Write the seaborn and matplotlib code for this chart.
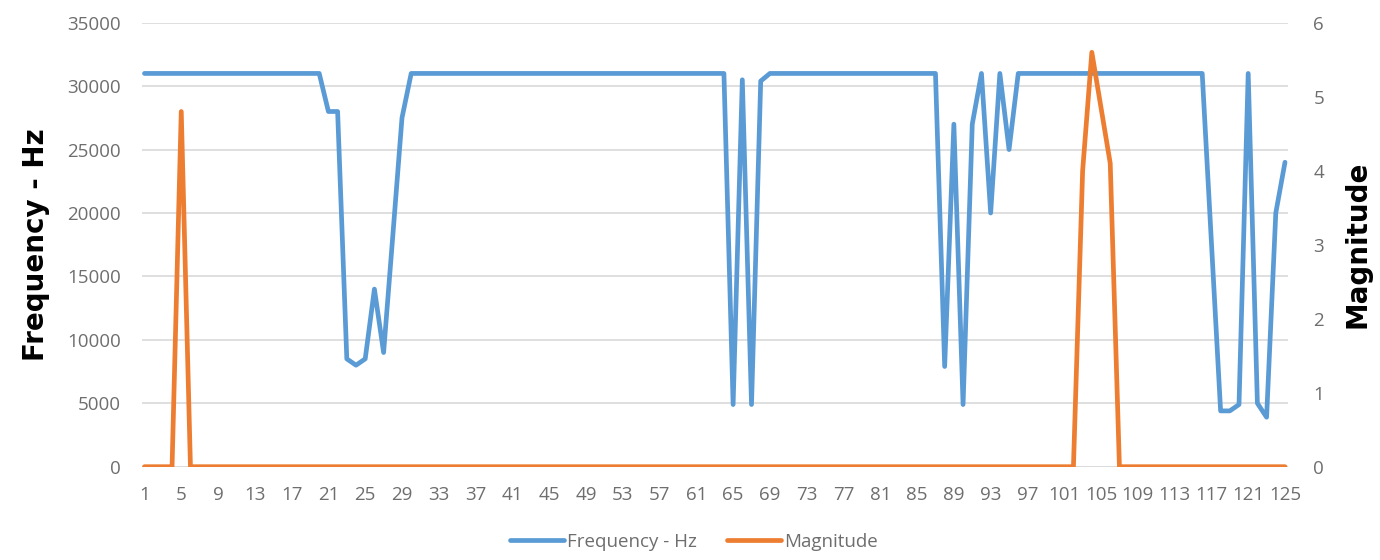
import matplotlib
matplotlib.use("Agg")
import matplotlib.pyplot as plt
from matplotlib.lines import Line2D
import seaborn as sns
import pandas as pd

# Sample number along the horizontal axis
sample = list(range(1, 126))

# Dominant frequency of each sample (Hz)
frequency_hz = [
    31000, 31000, 31000, 31000, 31000, 31000, 31000, 31000, 31000, 31000,
    31000, 31000, 31000, 31000, 31000, 31000, 31000, 31000, 31000, 31000,
    28000, 28000, 8500, 8000, 8500, 14000, 9000, 18200, 27500, 31000,
    31000, 31000, 31000, 31000, 31000, 31000, 31000, 31000, 31000, 31000,
    31000, 31000, 31000, 31000, 31000, 31000, 31000, 31000, 31000, 31000,
    31000, 31000, 31000, 31000, 31000, 31000, 31000, 31000, 31000, 31000,
    31000, 31000, 31000, 31000, 4900, 30500, 4900, 30400, 31000, 31000,
    31000, 31000, 31000, 31000, 31000, 31000, 31000, 31000, 31000, 31000,
    31000, 31000, 31000, 31000, 31000, 31000, 31000, 7900, 27000, 4900,
    27000, 31000, 20000, 31000, 25000, 31000, 31000, 31000, 31000, 31000,
    31000, 31000, 31000, 31000, 31000, 31000, 31000, 31000, 31000, 31000,
    31000, 31000, 31000, 31000, 31000, 31000, 17700, 4400, 4400, 4900,
    31000, 5000, 3900, 20000, 24000,
]

# Magnitude of each sample
magnitude = [
    0, 0, 0, 0, 4.8, 0, 0, 0, 0, 0,
    0, 0, 0, 0, 0, 0, 0, 0, 0, 0,
    0, 0, 0, 0, 0, 0, 0, 0, 0, 0,
    0, 0, 0, 0, 0, 0, 0, 0, 0, 0,
    0, 0, 0, 0, 0, 0, 0, 0, 0, 0,
    0, 0, 0, 0, 0, 0, 0, 0, 0, 0,
    0, 0, 0, 0, 0, 0, 0, 0, 0, 0,
    0, 0, 0, 0, 0, 0, 0, 0, 0, 0,
    0, 0, 0, 0, 0, 0, 0, 0, 0, 0,
    0, 0, 0, 0, 0, 0, 0, 0, 0, 0,
    0, 0, 4.0, 5.6, 4.85, 4.1, 0, 0, 0, 0,
    0, 0, 0, 0, 0, 0, 0, 0, 0, 0,
    0, 0, 0, 0, 0,
]

x_ticks = list(range(1, 126, 4))
freq_ticks = [0, 5000, 10000, 15000, 20000, 25000, 30000, 35000]
mag_ticks = [0, 1, 2, 3, 4, 5, 6]

df = pd.DataFrame({"sample": sample, "freq": frequency_hz, "mag": magnitude})

BLUE = "#5B9BD5"
ORANGE = "#ED7D31"
GRID = "#D9D9D9"
TXT = "#6E6E6E"

sns.set_theme(style="white")
plt.rcParams["font.family"] = ["Open Sans", "DejaVu Sans"]

W, H = 1380, 560
fig = plt.figure(figsize=(W / 100, H / 100), dpi=100)
left, right, top, bottom = 141.7, 1288.3, 22.7, 466.7
ax = fig.add_axes([left / W, 1 - bottom / H, (right - left) / W, (bottom - top) / H])
ax2 = ax.twinx()

sns.lineplot(data=df, x="sample", y="freq", ax=ax, color=BLUE, linewidth=3.4,
             legend=False)
sns.lineplot(data=df, x="sample", y="mag", ax=ax2, color=ORANGE, linewidth=3.4,
             legend=False)

ax.set_xlim(0.7, 125.36)
ax.set_ylim(0, 35000)
ax2.set_ylim(0, 6)

ax.set_yticks(freq_ticks)
ax.set_yticklabels([str(v) for v in freq_ticks])
ax2.set_yticks(mag_ticks)
ax2.set_yticklabels([str(v) for v in mag_ticks])
ax.set_xticks(x_ticks)
ax.set_xticklabels([str(v) for v in x_ticks])

ax.grid(axis="y", color=GRID, linewidth=1.2)
ax.set_axisbelow(True)
for a in (ax, ax2):
    for s in ("left", "right", "top"):
        a.spines[s].set_visible(False)
    a.spines["bottom"].set_visible(False)
    a.tick_params(length=0, labelsize=13.5, labelcolor=TXT)
ax.axhline(0, color=GRID, linewidth=1.2, zorder=0)

ax.tick_params(axis="y", pad=15)
ax.tick_params(axis="x", pad=14)
ax2.tick_params(axis="y", pad=18)

ax.set_xlabel("")
ax.set_ylabel("Frequency - Hz", fontsize=20, fontweight="bold", color="black",
              family=["DejaVu Sans"], labelpad=12)
ax2.set_ylabel("Magnitude", fontsize=20, fontweight="bold", color="black",
               family=["DejaVu Sans"], labelpad=14)

handles = [Line2D([], [], color=BLUE, linewidth=3.4),
           Line2D([], [], color=ORANGE, linewidth=3.4)]
fig.legend(handles, ["Frequency - Hz", "Magnitude"], loc="center",
           bbox_to_anchor=(694 / W, 1 - 542 / H), ncol=2, frameon=False,
           fontsize=13.5, labelcolor=TXT, handlelength=2.9, handletextpad=0.15,
           columnspacing=1.6)

fig.savefig("out.png", dpi=100, facecolor="white")
